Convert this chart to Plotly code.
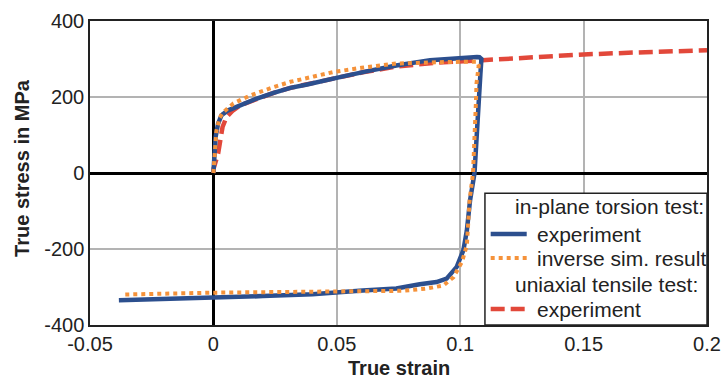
import plotly.graph_objects as go

# In-plane torsion test: experiment (cyclic loop)
strain_exp = [0, 0.0003, 0.0009, 0.0019, 0.0033, 0.006, 0.0108, 0.0176, 0.0244, 0.0312,
              0.038, 0.0449, 0.0517, 0.0625, 0.0741, 0.0878, 0.0986, 0.1068, 0.1078, 0.1086,
              0.1082, 0.1075, 0.1058, 0.1040, 0.1027, 0.1013, 0.0986, 0.0945, 0.0904, 0.0836,
              0.0768, 0.0741, 0.0605, 0.0401, 0.02, -0.0008, -0.02, -0.0383]
stress_exp = [0, 50, 95, 130, 152, 165, 178, 196, 211, 224,
              233, 242, 253, 268, 283, 297, 303, 305, 304.5, 300,
              262, 191, 0, -72, -151, -203, -247, -278, -287, -293,
              -302, -304, -309, -319, -324, -328, -332, -335]

# In-plane torsion test: inverse simulation result
strain_sim = [0, 0.0005, 0.0012, 0.0025, 0.004, 0.0081, 0.0149, 0.0244, 0.0312, 0.0407,
              0.0489, 0.06, 0.074, 0.0945, 0.1068, 0.1075, 0.1066, 0.1064, 0.1052, 0.1038,
              0.1027, 0.1007, 0.0973, 0.0932, 0.0864, 0.0768, 0.06, 0.04, -0.001, -0.0369]
stress_sim = [0, 60, 110, 145, 160, 183, 204, 226, 240, 254,
              266, 277, 288, 292, 293, 283, 235, 191, 0, -72,
              -190, -234, -274, -296, -304, -310, -311, -311, -315, -320]

# Uniaxial tensile test: experiment
strain_uni = [0, 0.0001, 0.0019, 0.0026, 0.0037, 0.0053, 0.008, 0.0108, 0.0176, 0.0244,
              0.0312, 0.04, 0.05, 0.0605, 0.074, 0.081, 0.09, 0.1015, 0.1136, 0.125,
              0.15, 0.175, 0.2]
stress_uni = [0, 12, 51, 86, 121, 147, 165, 178, 196, 211,
              224, 237, 251, 265, 280, 285, 290, 294, 299, 304,
              312, 318, 323]

x_ticks = [-0.05, 0, 0.05, 0.1, 0.15, 0.2]
x_tick_labels = ["-0.05", "0", "0.05", "0.1", "0.15", "0.2"]
y_ticks = [-400, -200, 0, 200, 400]
y_tick_labels = ["-400", "-200", "0", "200", "400"]

BLUE = "#2c4f8e"
ORANGE = "#f5923a"
RED = "#e2483a"
FONT = "Liberation Sans, Arial, sans-serif"

fig = go.Figure()
fig.add_trace(go.Scatter(x=strain_uni, y=stress_uni, mode="lines",
                         line=dict(color=RED, width=4.5, dash="14px,6px"), showlegend=False))
fig.add_trace(go.Scatter(x=strain_exp, y=stress_exp, mode="lines",
                         line=dict(color=BLUE, width=4.5), showlegend=False))
fig.add_trace(go.Scatter(x=strain_sim, y=stress_sim, mode="lines",
                         line=dict(color=ORANGE, width=4, dash="4px,4px"), showlegend=False))

axis_common = dict(showgrid=True, gridcolor="#b3b3b3", gridwidth=1.5,
                   zeroline=True, zerolinecolor="black", zerolinewidth=2.5,
                   showline=True, linecolor="#222", linewidth=1.5, mirror=True,
                   automargin=False,
                   ticks="", tickfont=dict(family=FONT, size=20, color="#222"))

fig.update_xaxes(range=[-0.05, 0.2], tickvals=x_ticks, ticktext=x_tick_labels, **axis_common)
fig.update_yaxes(range=[-400, 400], tickvals=y_ticks, ticktext=y_tick_labels, **axis_common)

# Legend (custom box)
lx0, lx1, ly0, ly1 = 0.6401, 1.0, 0.0, 0.4332
shapes = [dict(type="rect", xref="paper", yref="paper", x0=lx0, x1=lx1, y0=ly0, y1=ly1,
               fillcolor="white", line=dict(color="#222", width=1.5), layer="above")]
rows = [0.389, 0.299, 0.220, 0.1316, 0.0526]
sx0, sx1 = 0.6494, 0.7078
shapes.append(dict(type="line", xref="paper", yref="paper", x0=sx0, x1=sx1, y0=rows[1], y1=rows[1],
                   line=dict(color=BLUE, width=4.5), layer="above"))
shapes.append(dict(type="line", xref="paper", yref="paper", x0=sx0, x1=sx1, y0=rows[2], y1=rows[2],
                   line=dict(color=ORANGE, width=4, dash="4px,4px"), layer="above"))
shapes.append(dict(type="line", xref="paper", yref="paper", x0=sx0, x1=sx1 + 0.006, y0=rows[4], y1=rows[4],
                   line=dict(color=RED, width=4.5, dash="14px,6px"), layer="above"))

lf = dict(family=FONT, size=21, color="#222")
annotations = [
    dict(text="in-plane torsion test:", x=0.6862, y=rows[0]),
    dict(text="experiment", x=0.7208, y=rows[1]),
    dict(text="inverse sim. result", x=0.7208, y=rows[2]),
    dict(text="uniaxial tensile test:", x=0.6862, y=rows[3]),
    dict(text="experiment", x=0.7208, y=rows[4]),
]
for a in annotations:
    a.update(xref="paper", yref="paper", xanchor="left", yanchor="middle", showarrow=False, font=lf)

annotations.append(dict(text="<b>True strain</b>", xref="paper", yref="paper", x=0.5, y=-0.1414,
                        xanchor="center", yanchor="middle", showarrow=False,
                        font=dict(family=FONT, size=20, color="#222")))
annotations.append(dict(text="<b>True stress in MPa</b>", xref="paper", yref="paper", x=-0.1104, y=0.5164,
                        xanchor="center", yanchor="middle", showarrow=False, textangle=-90,
                        font=dict(family=FONT, size=20, color="#222")))

fig.update_layout(width=721, height=378, margin=dict(l=90, r=14, t=21, b=53),
                  paper_bgcolor="white", plot_bgcolor="white",
                  shapes=shapes, annotations=annotations, showlegend=False)

fig.write_html("out.html")
